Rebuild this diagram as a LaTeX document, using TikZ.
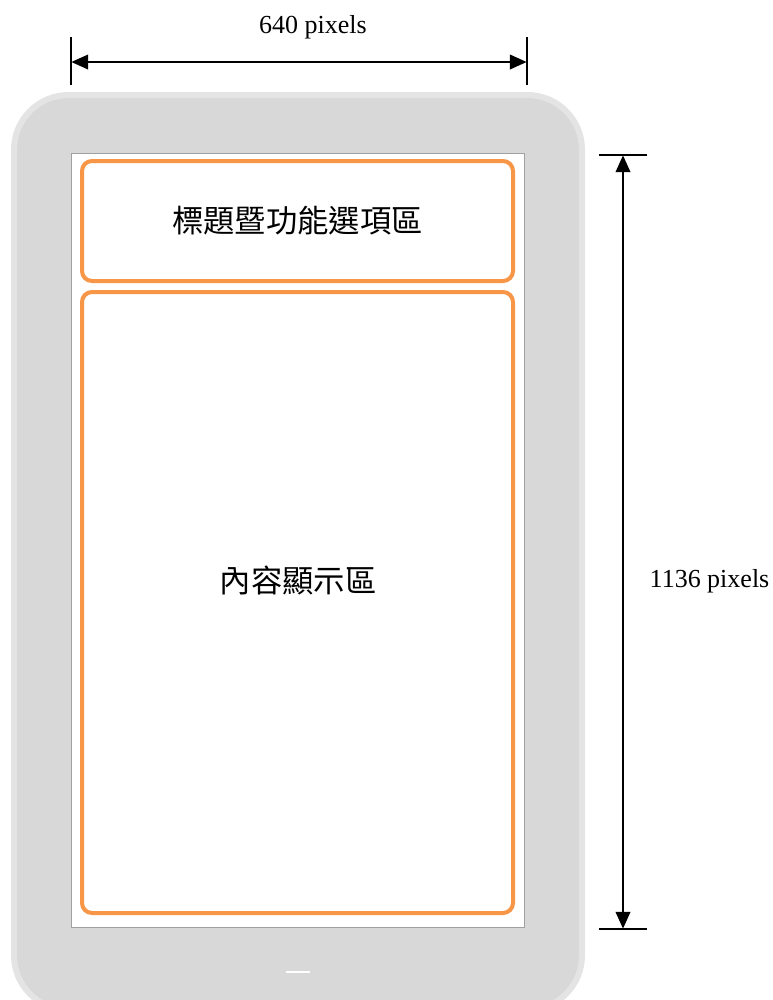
\documentclass[tikz,border=0pt]{standalone}
\usepackage{fontspec}
\setmainfont{Liberation Serif}
\newfontfamily\cjkfont{Noto Sans CJK TC}
\usetikzlibrary{arrows.meta,positioning}
\definecolor{phonegray}{HTML}{D8D8D8}
\definecolor{phoneedge}{HTML}{E4E4E4}
\definecolor{zoneorange}{HTML}{F79646}
\definecolor{screenline}{HTML}{A0A0A0}

\begin{document}
\begin{tikzpicture}[
    x=0.75pt,y=-0.75pt,
    body/.style = {fill=phonegray,draw=phoneedge,line width=4.5pt,rounded corners=41pt},
    scr/.style  = {fill=white,draw=screenline,line width=0.6pt},
    zone/.style = {rectangle,rounded corners=7.5pt,draw=zoneorange,line width=3pt,
                   minimum width=323.25pt,inner sep=0pt},
    cjk/.style  = {font=\cjkfont\fontsize{23.5}{28}\selectfont},
    dim/.style  = {{Triangle[length=12.5pt,width=11pt]}-{Triangle[length=12.5pt,width=11pt]},
                   line width=1.1pt,shorten <=0.3pt,shorten >=0.3pt},
    tck/.style  = {line width=1.1pt},
    lbl/.style  = {font=\fontsize{19.5}{23}\selectfont},
  ]
  \useasboundingbox (0,0) rectangle (773,1000);

  % Gehaeuse und Bildschirm
  \begin{scope}
    \clip (0,0) rectangle (773,1000);
    \draw[body] (14,95) rectangle (582,1010);
  \end{scope}
  \draw[white,line width=2.2pt] (286,972) -- (310,972);
  \draw[scr] (71,153) rectangle (524,927);

  % Bereiche
  \node[zone,minimum height=90pt,cjk] (titlebar) at (297.5,221) {標題暨功能選項區};
  \node[zone,minimum height=465.75pt] (content) at (297.5,602.5) {};
  \node[cjk] (contentlbl) at (298,581) {內容顯示區};

  % Breite
  \coordinate (wl) at (71,62);
  \coordinate (wr) at (527,62);
  \draw[tck] (71,37) -- (71,85);
  \draw[tck] (527,37) -- (527,85);
  \draw[dim] (wl) -- (wr);
  \node[lbl] (wlbl) at (313,27) {640 pixels};

  % Hoehe
  \coordinate (ht) at (623,155);
  \coordinate (hb) at (623,929);
  \draw[tck] (599,155) -- (647,155);
  \draw[tck] (599,929) -- (647,929);
  \draw[dim] (ht) -- (hb);
  \node[lbl,anchor=west] (hlbl) at (645,581) {1136 pixels};

\end{tikzpicture}
\end{document}
